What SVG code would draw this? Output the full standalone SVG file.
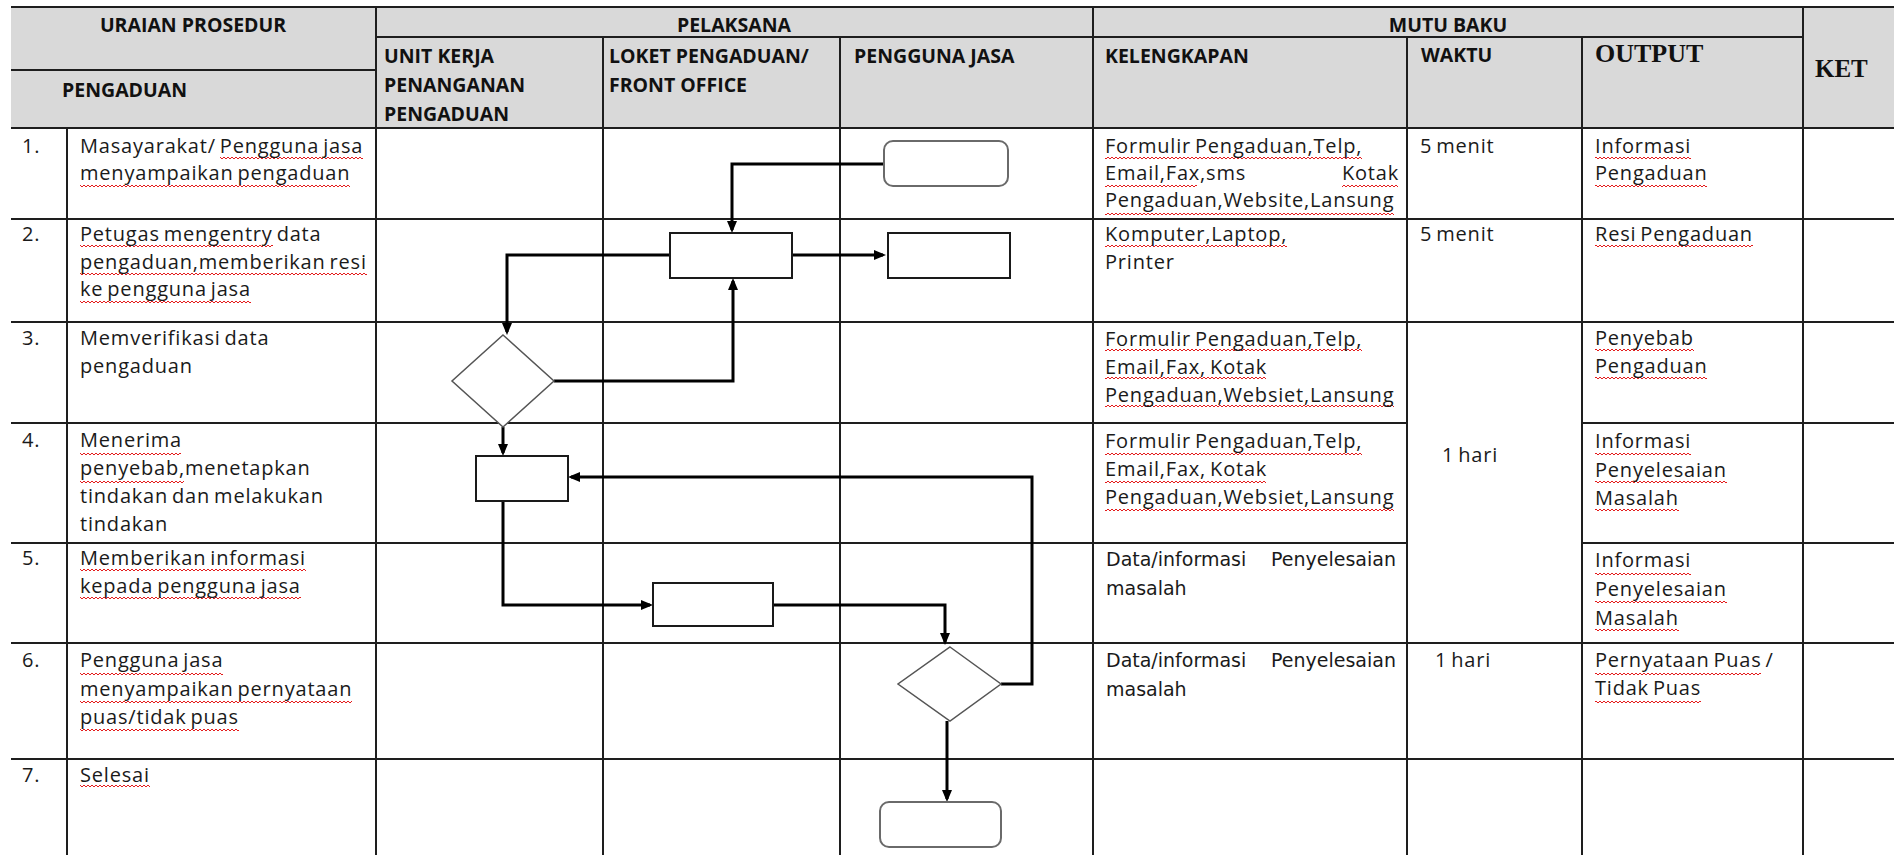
<svg xmlns="http://www.w3.org/2000/svg" width="1894" height="855" viewBox="0 0 1894 855">
<style>
  .grid line{stroke:#1e1e1e;stroke-width:2}
  .hd{font-family:"Open Sans","Liberation Sans",sans-serif;font-weight:700;font-size:19.5px;fill:#111}
  .hs{font-family:"Liberation Serif","DejaVu Serif",serif;font-weight:700;fill:#111}
  .tx{font-family:"Open Sans","Liberation Sans",sans-serif;font-size:20px;fill:#1a1a1a;letter-spacing:0.8px;word-spacing:-2px}
  .dv{font-family:"DejaVu Sans","Liberation Sans",sans-serif;font-size:19px;fill:#1a1a1a}
  .wv{fill:url(#wave)}
  .box{fill:#fff;stroke:#1a1a1a;stroke-width:2}
  .rbox{fill:#fff;stroke:#6a6a6a;stroke-width:2}
  .dia{fill:#fff;stroke:#555;stroke-width:1.5}
  .conn path{fill:none;stroke:#000;stroke-width:3;marker-end:url(#ah)}
</style>
<defs>
  <marker id="ah" viewBox="0 0 12 10" refX="9" refY="5" markerWidth="12" markerHeight="10" markerUnits="userSpaceOnUse" orient="auto">
    <path d="M0,0 L12,5 L0,10 z" fill="#000"/>
  </marker>
  <pattern id="wave" width="4" height="4" patternUnits="userSpaceOnUse">
    <path d="M0,1 L2,3 L4,1" fill="none" stroke="#e41b1b" stroke-width="1"/>
  </pattern>
</defs>
<rect width="1894" height="855" fill="#fff"/>
<rect x="11" y="7" width="1883" height="121" fill="#d9d9d9"/>

<g id="table" class="grid">
  <line x1="11" y1="7" x2="1894" y2="7"/>
  <line x1="376" y1="37" x2="1803" y2="37"/>
  <line x1="11" y1="70" x2="376" y2="70"/>
  <line x1="11" y1="128" x2="1894" y2="128"/>
  <line x1="11" y1="219" x2="1894" y2="219"/>
  <line x1="11" y1="322" x2="1894" y2="322"/>
  <line x1="11" y1="423" x2="1407" y2="423"/>
  <line x1="1582" y1="423" x2="1894" y2="423"/>
  <line x1="11" y1="543" x2="1407" y2="543"/>
  <line x1="1582" y1="543" x2="1894" y2="543"/>
  <line x1="11" y1="643" x2="1894" y2="643"/>
  <line x1="11" y1="759" x2="1894" y2="759"/>
  <line x1="67" y1="128" x2="67" y2="855"/>
  <line x1="376" y1="7" x2="376" y2="855"/>
  <line x1="603" y1="37" x2="603" y2="855"/>
  <line x1="840" y1="37" x2="840" y2="855"/>
  <line x1="1093" y1="7" x2="1093" y2="855"/>
  <line x1="1407" y1="37" x2="1407" y2="855"/>
  <line x1="1582" y1="37" x2="1582" y2="855"/>
  <line x1="1803" y1="7" x2="1803" y2="855"/>
</g>

<g id="header">
  <text class="hd" x="193" y="32" text-anchor="middle">URAIAN PROSEDUR</text>
  <text class="hd" x="62" y="97">PENGADUAN</text>
  <text class="hd" x="734" y="32" text-anchor="middle">PELAKSANA</text>
  <text class="hd" x="1448" y="32" text-anchor="middle">MUTU BAKU</text>
  <text class="hd" x="384" y="63">UNIT KERJA</text>
  <text class="hd" x="384" y="92">PENANGANAN</text>
  <text class="hd" x="384" y="121">PENGADUAN</text>
  <text class="hd" x="609" y="63">LOKET PENGADUAN/</text>
  <text class="hd" x="609" y="92">FRONT OFFICE</text>
  <text class="hd" x="854" y="63">PENGGUNA JASA</text>
  <text class="hd" x="1105" y="63">KELENGKAPAN</text>
  <text class="hd" x="1421" y="62">WAKTU</text>
  <text class="hs" x="1595" y="62" font-size="26">OUTPUT</text>
  <text class="hs" x="1815" y="77" font-size="25">KET</text>
</g>

<g id="spellcheck">
  <rect class="wv" x="220" y="156" width="143" height="4"/>
  <rect class="wv" x="80" y="184" width="270" height="4"/>
  <rect class="wv" x="80" y="244" width="193" height="4"/>
  <rect class="wv" x="80" y="272" width="287" height="4"/>
  <rect class="wv" x="80" y="300" width="171" height="4"/>
  <rect class="wv" x="80" y="452" width="101" height="4"/>
  <rect class="wv" x="80" y="480" width="104" height="4"/>
  <rect class="wv" x="80" y="568" width="226" height="4"/>
  <rect class="wv" x="80" y="596" width="221" height="4"/>
  <rect class="wv" x="80" y="672" width="143" height="4"/>
  <rect class="wv" x="80" y="700" width="272" height="4"/>
  <rect class="wv" x="80" y="728" width="159" height="4"/>
  <rect class="wv" x="80" y="784" width="70" height="4"/>

  <rect class="wv" x="1105" y="156" width="257" height="4"/>
  <rect class="wv" x="1105" y="184" width="92" height="4"/>
  <rect class="wv" x="1342" y="184" width="56" height="4"/>
  <rect class="wv" x="1105" y="212" width="289" height="4"/>
  <rect class="wv" x="1105" y="244" width="182" height="4"/>
  <rect class="wv" x="1105" y="348" width="257" height="4"/>
  <rect class="wv" x="1105" y="376" width="161" height="4"/>
  <rect class="wv" x="1105" y="404" width="289" height="4"/>
  <rect class="wv" x="1105" y="452" width="257" height="4"/>
  <rect class="wv" x="1105" y="480" width="161" height="4"/>
  <rect class="wv" x="1105" y="508" width="289" height="4"/>

  <rect class="wv" x="1595" y="156" width="96" height="4"/>
  <rect class="wv" x="1595" y="184" width="112" height="4"/>
  <rect class="wv" x="1595" y="244" width="158" height="4"/>
  <rect class="wv" x="1595" y="348" width="99" height="4"/>
  <rect class="wv" x="1595" y="376" width="112" height="4"/>
  <rect class="wv" x="1595" y="452" width="96" height="4"/>
  <rect class="wv" x="1595" y="480" width="132" height="4"/>
  <rect class="wv" x="1595" y="508" width="84" height="4"/>
  <rect class="wv" x="1595" y="572" width="96" height="4"/>
  <rect class="wv" x="1595" y="600" width="132" height="4"/>
  <rect class="wv" x="1595" y="628" width="84" height="4"/>
  <rect class="wv" x="1595" y="672" width="166" height="4"/>
  <rect class="wv" x="1595" y="700" width="106" height="4"/>
</g>

<g id="col-uraian">
  <text class="tx" x="22" y="153">1.</text>
  <text class="tx" x="80" y="153">Masayarakat/ Pengguna jasa</text>
  <text class="tx" x="80" y="180">menyampaikan pengaduan</text>

  <text class="tx" x="22" y="241">2.</text>
  <text class="tx" x="80" y="241">Petugas mengentry data</text>
  <text class="tx" x="80" y="269">pengaduan,memberikan resi</text>
  <text class="tx" x="80" y="296">ke pengguna jasa</text>

  <text class="tx" x="22" y="345">3.</text>
  <text class="tx" x="80" y="345">Memverifikasi data</text>
  <text class="tx" x="80" y="373">pengaduan</text>

  <text class="tx" x="22" y="447">4.</text>
  <text class="tx" x="80" y="447">Menerima</text>
  <text class="tx" x="80" y="475">penyebab,menetapkan</text>
  <text class="tx" x="80" y="503">tindakan dan melakukan</text>
  <text class="tx" x="80" y="531">tindakan</text>

  <text class="tx" x="22" y="565">5.</text>
  <text class="tx" x="80" y="565">Memberikan informasi</text>
  <text class="tx" x="80" y="593">kepada pengguna jasa</text>

  <text class="tx" x="22" y="667">6.</text>
  <text class="tx" x="80" y="667">Pengguna jasa</text>
  <text class="tx" x="80" y="696">menyampaikan pernyataan</text>
  <text class="tx" x="80" y="724">puas/tidak puas</text>

  <text class="tx" x="22" y="782">7.</text>
  <text class="tx" x="80" y="782">Selesai</text>
</g>

<g id="col-kelengkapan">
  <text class="tx" x="1105" y="153">Formulir Pengaduan,Telp,</text>
  <text class="tx" x="1105" y="180">Email,Fax,sms</text>
  <text class="tx" x="1399" y="180" text-anchor="end">Kotak</text>
  <text class="tx" x="1105" y="207">Pengaduan,Website,Lansung</text>

  <text class="tx" x="1105" y="241">Komputer,Laptop,</text>
  <text class="tx" x="1105" y="269">Printer</text>

  <text class="tx" x="1105" y="346">Formulir Pengaduan,Telp,</text>
  <text class="tx" x="1105" y="374">Email,Fax, Kotak</text>
  <text class="tx" x="1105" y="402">Pengaduan,Websiet,Lansung</text>

  <text class="tx" x="1105" y="448">Formulir Pengaduan,Telp,</text>
  <text class="tx" x="1105" y="476">Email,Fax, Kotak</text>
  <text class="tx" x="1105" y="504">Pengaduan,Websiet,Lansung</text>

  <text class="dv" x="1106" y="566">Data/informasi<tspan x="1271">Penyelesaian</tspan></text>
  <text class="dv" x="1106" y="595">masalah</text>

  <text class="dv" x="1106" y="667">Data/informasi<tspan x="1271">Penyelesaian</tspan></text>
  <text class="dv" x="1106" y="696">masalah</text>
</g>

<g id="col-waktu">
  <text class="tx" x="1420" y="153">5 menit</text>
  <text class="tx" x="1420" y="241">5 menit</text>
  <text class="tx" x="1442" y="462">1 hari</text>
  <text class="tx" x="1435" y="667">1 hari</text>
</g>

<g id="col-output">
  <text class="tx" x="1595" y="153">Informasi</text>
  <text class="tx" x="1595" y="180">Pengaduan</text>
  <text class="tx" x="1595" y="241">Resi Pengaduan</text>
  <text class="tx" x="1595" y="345">Penyebab</text>
  <text class="tx" x="1595" y="373">Pengaduan</text>
  <text class="tx" x="1595" y="448">Informasi</text>
  <text class="tx" x="1595" y="477">Penyelesaian</text>
  <text class="tx" x="1595" y="505">Masalah</text>
  <text class="tx" x="1595" y="567">Informasi</text>
  <text class="tx" x="1595" y="596">Penyelesaian</text>
  <text class="tx" x="1595" y="625">Masalah</text>
  <text class="tx" x="1595" y="667">Pernyataan Puas /</text>
  <text class="tx" x="1595" y="695">Tidak Puas</text>
</g>

<g id="conn" class="conn">
  <path d="M884,164 H732 V230"/>
  <path d="M792,255 H883"/>
  <path d="M670,255 H507 V332"/>
  <path d="M554,381 H733 V281"/>
  <path d="M503,427 V453"/>
  <path d="M503,501 V605 H650"/>
  <path d="M773,605 H945 V642"/>
  <path d="M1001,684 H1032 V477 H571"/>
  <path d="M947,721 V799"/>
</g>

<g id="n-start"><rect class="rbox" x="884" y="141" width="124" height="45" rx="9"/></g>
<g id="n-entry"><rect class="box" x="670" y="233" width="122" height="45"/></g>
<g id="n-resi"><rect class="box" x="888" y="233" width="122" height="45"/></g>
<g id="n-verify"><polygon class="dia" points="503,335 554,381 503,427 452,381"/></g>
<g id="n-action"><rect class="box" x="476" y="456" width="92" height="45"/></g>
<g id="n-info"><rect class="box" x="653" y="583" width="120" height="43"/></g>
<g id="n-puas"><polygon class="dia" points="950,647 1001,684 950,721 898,684"/></g>
<g id="n-end"><rect class="rbox" x="880" y="802" width="121" height="45" rx="9"/></g>
</svg>
